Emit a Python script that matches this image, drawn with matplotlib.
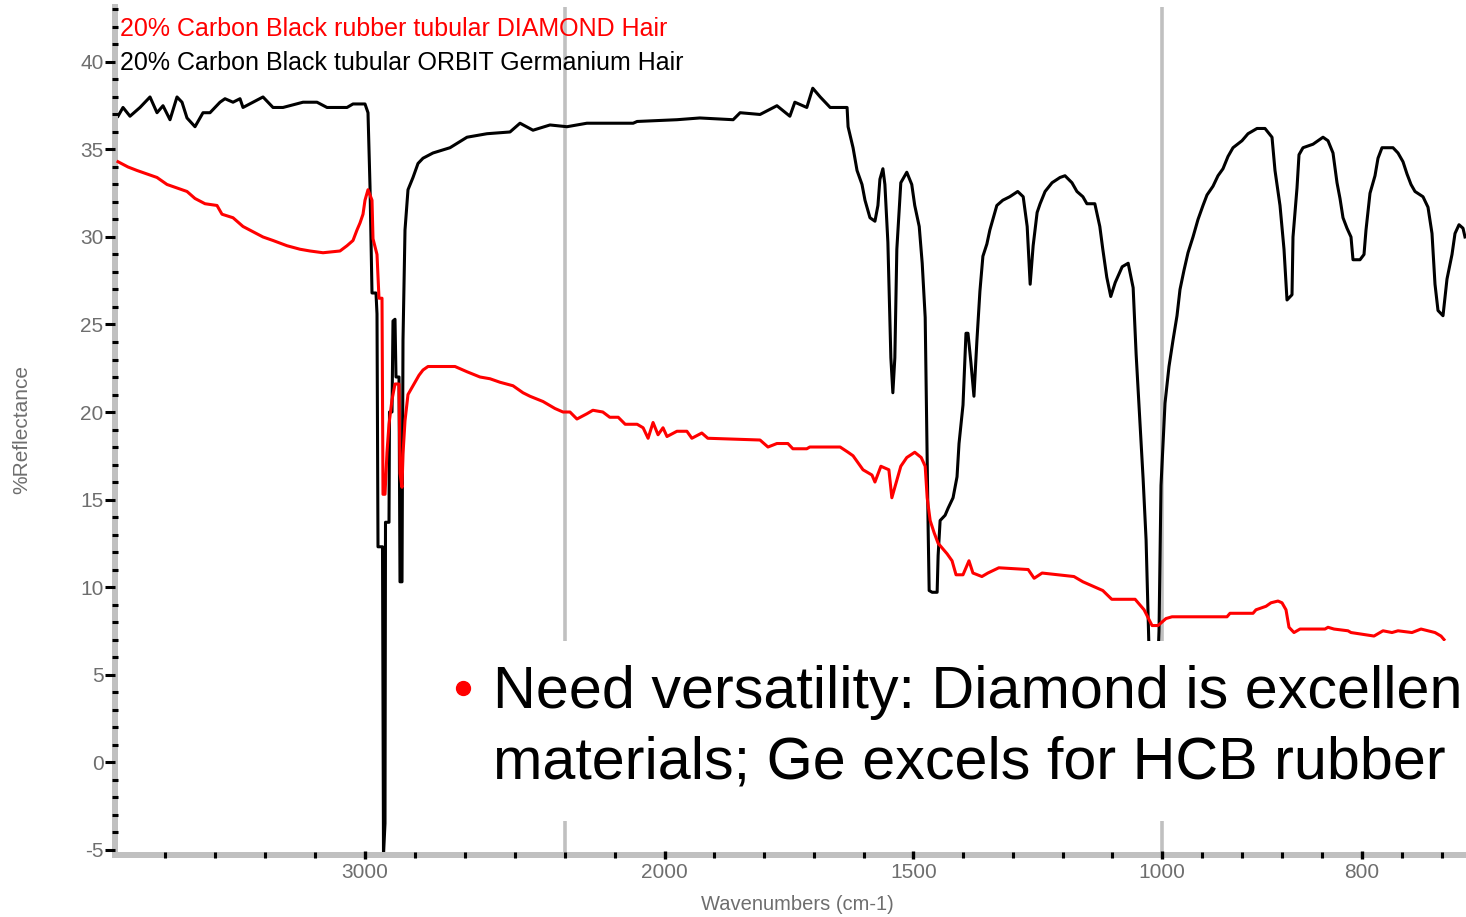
import matplotlib
matplotlib.use("Agg")
import matplotlib.pyplot as plt
import numpy as np
from matplotlib.ticker import FixedLocator, FixedFormatter, MultipleLocator
from matplotlib.patches import Rectangle
from matplotlib.lines import Line2D

plt.rcParams['font.family'] = ['Liberation Sans', 'DejaVu Sans']
plt.rcParams['axes.unicode_minus'] = False

# ORBIT germanium spectrum (black), wavenumber cm-1 / %R
ge_wn = [3988, 3968, 3940, 3900, 3860, 3832, 3808, 3780, 3752, 3732,
         3712, 3680, 3648, 3620, 3580, 3560, 3528, 3500, 3488, 3448,
         3408, 3368, 3328, 3248, 3192, 3152, 3072, 3048, 3000, 2988,
         2980, 2972, 2956, 2952, 2948, 2930, 2926, 2920, 2918, 2904,
         2902, 2892, 2888, 2880, 2876, 2864, 2860, 2852, 2848, 2840,
         2828, 2808, 2788, 2768, 2728, 2660, 2592, 2512, 2420, 2380,
         2328, 2260, 2196, 2156, 2063, 2055, 1975, 1929, 1862, 1848,
         1808, 1774, 1748, 1738, 1714, 1702, 1687, 1667, 1633, 1631,
         1621, 1613, 1603, 1597, 1587, 1577, 1571, 1567, 1561, 1557,
         1551, 1545, 1541, 1537, 1533, 1525, 1513, 1503, 1497, 1488,
         1482, 1476, 1472, 1470, 1468, 1462, 1452, 1450, 1446, 1436,
         1430, 1420, 1412, 1408, 1400, 1394, 1390, 1384, 1378, 1372,
         1366, 1360, 1352, 1346, 1340, 1332, 1320, 1306, 1290, 1279,
         1271, 1265, 1259, 1251, 1245, 1235, 1221, 1205, 1195, 1181,
         1171, 1159, 1151, 1135, 1125, 1119, 1111, 1103, 1094, 1080,
         1068, 1058, 1052, 1044, 1038, 1032, 1026, 1020, 1012, 1006,
         1002, 997, 993, 989, 985, 982, 978, 974, 969, 964,
         959, 955, 949, 944, 939, 934, 929, 920, 914, 905,
         897, 890, 887, 882, 878, 875, 870, 869, 865, 863,
         859, 849, 839, 834, 829, 825, 822, 819, 815, 811,
         809, 802, 798, 796, 792, 787, 784, 780, 769, 764,
         759, 755, 751, 747, 739, 734, 730, 727, 724, 719,
         715, 710, 707, 703, 699, 697]
ge_r = [36.9, 37.4, 36.9, 37.4, 38.0, 37.1, 37.5, 36.7, 38.0, 37.7,
        36.8, 36.3, 37.1, 37.1, 37.7, 37.9, 37.7, 37.9, 37.4, 37.7,
        38.0, 37.4, 37.4, 37.7, 37.7, 37.4, 37.4, 37.6, 37.6, 37.1,
        32.9, 26.8, 26.8, 25.6, 12.3, 12.3, -5.3, -3.5, 13.7, 13.7,
        20.0, 20.0, 25.2, 25.3, 22.0, 22.0, 10.3, 10.3, 24.1, 30.4,
        32.7, 33.4, 34.2, 34.5, 34.8, 35.1, 35.7, 35.9, 36.0, 36.5,
        36.1, 36.4, 36.3, 36.5, 36.5, 36.6, 36.7, 36.8, 36.7, 37.1,
        37.0, 37.5, 36.9, 37.7, 37.4, 38.5, 38.0, 37.4, 37.4, 36.3,
        35.1, 33.8, 33.0, 32.1, 31.1, 30.9, 31.8, 33.3, 33.9, 33.0,
        29.7, 23.1, 21.1, 23.1, 29.3, 33.1, 33.7, 33.0, 31.8, 30.6,
        28.5, 25.4, 17.1, 13.2, 9.8, 9.7, 9.7, 11.8, 13.8, 14.1,
        14.5, 15.1, 16.3, 18.2, 20.4, 24.5, 24.5, 22.8, 20.9, 24.1,
        26.9, 28.9, 29.6, 30.4, 31.0, 31.8, 32.1, 32.3, 32.6, 32.3,
        30.6, 27.3, 29.5, 31.4, 31.9, 32.6, 33.1, 33.4, 33.5, 33.1,
        32.6, 32.3, 31.9, 31.9, 30.6, 29.3, 27.7, 26.6, 27.4, 28.3,
        28.5, 27.1, 23.3, 19.3, 16.2, 12.7, 6.3, 2.5, 2.5, 7.5,
        15.8, 20.5, 22.6, 24.1, 25.5, 27.0, 28.1, 29.1, 30.0, 31.0,
        31.8, 32.4, 32.9, 33.5, 33.9, 34.6, 35.1, 35.5, 35.9, 36.2,
        36.2, 35.7, 33.8, 31.8, 29.3, 26.4, 26.7, 30.0, 32.8, 34.7,
        35.1, 35.3, 35.7, 35.5, 34.8, 33.1, 32.2, 31.1, 30.5, 30.0,
        28.7, 28.7, 29.0, 30.4, 32.5, 33.5, 34.5, 35.1, 35.1, 34.8,
        34.3, 33.6, 33.0, 32.6, 32.3, 31.7, 30.2, 27.3, 25.8, 25.5,
        27.6, 29.0, 30.2, 30.7, 30.5, 30.0]

# DIAMOND spectrum (red)
dia_wn = [3988, 3948, 3912, 3872, 3832, 3792, 3752, 3712, 3680, 3640,
          3592, 3572, 3528, 3488, 3448, 3408, 3368, 3312, 3260, 3220,
          3168, 3100, 3072, 3048, 3032, 3020, 3008, 3000, 2988, 2972,
          2968, 2952, 2944, 2932, 2928, 2920, 2912, 2904, 2892, 2880,
          2864, 2860, 2852, 2848, 2840, 2828, 2812, 2796, 2784, 2768,
          2748, 2640, 2592, 2540, 2500, 2460, 2408, 2368, 2340, 2288,
          2240, 2208, 2190, 2176, 2156, 2144, 2124, 2110, 2093, 2079,
          2055, 2043, 2033, 2023, 2013, 2003, 1995, 1975, 1955, 1945,
          1925, 1913, 1808, 1792, 1774, 1752, 1742, 1714, 1708, 1647,
          1631, 1621, 1601, 1583, 1577, 1565, 1549, 1543, 1533, 1525,
          1513, 1497, 1484, 1476, 1472, 1466, 1458, 1450, 1432, 1422,
          1414, 1400, 1388, 1380, 1362, 1350, 1328, 1269, 1257, 1241,
          1177, 1159, 1143, 1119, 1101, 1054, 1036, 1020, 1008, 996,
          990, 935, 932, 909, 906, 896, 891, 884, 880, 876,
          873, 868, 862, 837, 834, 828, 814, 811, 788, 779,
          770, 764, 750, 741, 727, 721, 718]
dia_r = [34.3, 34.0, 33.8, 33.6, 33.4, 33.0, 32.8, 32.6, 32.2, 31.9,
         31.8, 31.3, 31.1, 30.6, 30.3, 30.0, 29.8, 29.5, 29.3, 29.2,
         29.1, 29.2, 29.5, 29.8, 30.4, 30.8, 31.3, 32.1, 32.7, 32.1,
         29.9, 29.0, 26.5, 26.5, 15.3, 15.3, 17.7, 19.3, 20.7, 21.6,
         21.6, 16.5, 15.7, 17.6, 19.5, 21.0, 21.4, 21.8, 22.1, 22.4,
         22.6, 22.6, 22.3, 22.0, 21.9, 21.7, 21.5, 21.1, 20.9, 20.6,
         20.2, 20.0, 20.0, 19.6, 19.9, 20.1, 20.0, 19.7, 19.7, 19.3,
         19.3, 19.1, 18.5, 19.4, 18.7, 19.1, 18.6, 18.9, 18.9, 18.5,
         18.8, 18.5, 18.4, 18.0, 18.2, 18.2, 17.9, 17.9, 18.0, 18.0,
         17.7, 17.5, 16.7, 16.4, 16.0, 16.9, 16.7, 15.1, 16.1, 16.9,
         17.4, 17.7, 17.4, 16.9, 15.1, 13.8, 13.1, 12.5, 11.9, 11.5,
         10.7, 10.7, 11.5, 10.8, 10.6, 10.8, 11.1, 11.0, 10.5, 10.8,
         10.6, 10.3, 10.1, 9.8, 9.3, 9.3, 8.7, 7.8, 7.8, 8.2,
         8.3, 8.3, 8.5, 8.5, 8.7, 8.9, 9.1, 9.2, 9.1, 8.7,
         7.7, 7.4, 7.6, 7.6, 7.7, 7.6, 7.5, 7.4, 7.2, 7.5,
         7.4, 7.5, 7.4, 7.6, 7.4, 7.2, 7.0]

major_x = [3000, 2000, 1500, 1000, 800]
minor_x = [3800, 3600, 3400, 3200, 2800, 2600, 2400, 2200, 2100, 1900,
           1800, 1700, 1600, 1400, 1300, 1200, 1100, 960, 920, 880,
           840, 760, 720]
scale_breaks = [2200, 1000]

legend_red = "20% Carbon Black rubber tubular DIAMOND Hair"
legend_black = "20% Carbon Black tubular ORBIT Germanium Hair"
# slide bullet, cut by the slide edge in the original
bullet_1 = "Need versatility: Diamond is excellen"
bullet_2 = "materials; Ge excels for HCB rubber"

# piecewise x axis (omnic style): 4000-2200 squeezed, 1000-700 stretched
seg_wn = [-10000, 696, 1000, 2200, 4000, 20000]
seg_u = [-12047, -1351, -1047, -450, 0, 4000]


def fwd(x):
    return np.interp(x, seg_wn, seg_u)


def inv(u):
    return np.interp(u, seg_u, seg_wn)


W, H = 1466, 917
fig = plt.figure(figsize=(W / 100, H / 100), dpi=100)
ax = fig.add_axes([115 / W, 1 - 855 / H, (W - 115) / W, (855 - 7) / H])

ax.set_xscale('function', functions=(fwd, inv))
ax.set_xlim(4000, 696)
ax.set_ylim(-5.31, 43.14)

grey = '#c0c0c0'
for b in scale_breaks:
    ax.axvline(b, color=grey, lw=2.6, zorder=1)

ax.plot(ge_wn, ge_r, color='black', lw=2.2, zorder=2)
ax.plot(dia_wn, dia_r, color='#ff0000', lw=2.2, zorder=3)

for s in ['top', 'right']:
    ax.spines[s].set_visible(False)
for s in ['left', 'bottom']:
    ax.spines[s].set_color(grey)
    ax.spines[s].set_linewidth(4.3)

ax.xaxis.set_major_locator(FixedLocator(major_x))
ax.xaxis.set_major_formatter(FixedFormatter([str(v) for v in major_x]))
ax.xaxis.set_minor_locator(FixedLocator(minor_x))
ax.yaxis.set_major_locator(MultipleLocator(5))
ax.yaxis.set_minor_locator(MultipleLocator(1))

# ticks go on top of the grey spines
ax.xaxis.set_zorder(4)
ax.yaxis.set_zorder(4)

lab_col = '#6e6e6e'
ax.tick_params(axis='y', which='major', direction='out', length=7.2, width=2.2,
               color='black', labelsize=15, labelcolor=lab_col, pad=1)
ax.tick_params(axis='y', which='minor', direction='inout', length=4.3, width=2.2,
               color='black')
ax.tick_params(axis='x', which='major', direction='inout', length=6, width=2.4,
               color='black', labelsize=15, labelcolor=lab_col, pad=3)
ax.tick_params(axis='x', which='minor', direction='inout', length=4.3, width=2.2,
               color='black')

# axis titles
fig.text(797 / W, 1 - 905 / H, "Wavenumbers (cm-1)", ha='center', va='center',
         fontsize=14.5, color=lab_col)
fig.text(22 / W, 1 - 430 / H, "%Reflectance", ha='center', va='center',
         rotation=90, fontsize=15, color=lab_col)

# spectrum titles
fig.text(120 / W, 1 - 36 / H, legend_red, color='#ff0000', fontsize=18, va='baseline')
fig.text(120 / W, 1 - 70 / H, legend_black, color='black', fontsize=18, va='baseline')

# slide text box laid over the plot
fig.add_artist(Rectangle((430 / W, 1 - 821 / H), (W - 430) / W + 0.01, (821 - 641) / H,
                         transform=fig.transFigure, facecolor='white',
                         edgecolor='none', zorder=5))
fig.add_artist(Line2D([463 / W], [1 - 688 / H], marker='o', markersize=10,
                      color='#ff0000', linestyle='none',
                      transform=fig.transFigure, zorder=6))
fig.text(493 / W, 1 - 708 / H, bullet_1, fontsize=42.7, color='black',
         va='baseline', zorder=6)
fig.text(493 / W, 1 - 778 / H, bullet_2, fontsize=42.7, color='black',
         va='baseline', zorder=6)

fig.savefig('out.png', dpi=100)
